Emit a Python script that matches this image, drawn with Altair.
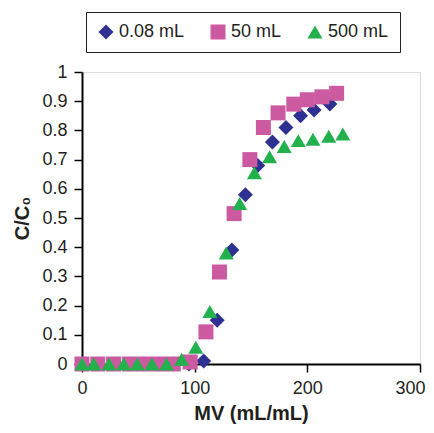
import altair as alt
import pandas as pd

series = ["0.08 mL", "50 mL", "500 mL"]
colors = ["#2E3192", "#CC5AA0", "#22B14C"]
shapes = ["diamond", "square", "triangle-up"]

x_008 = [0, 14, 28, 42, 55, 68, 81, 95, 108, 120, 133, 145, 156, 169, 181, 194, 206, 220]
y_008 = [0, 0, 0, 0, 0, 0, 0, 0, 0.01, 0.15, 0.39, 0.58, 0.68, 0.76, 0.81, 0.85, 0.87, 0.89]

x_50 = [0, 14, 28, 42, 55, 68, 81, 96, 110, 122, 135, 149, 161, 174, 188, 200, 213, 226]
y_50 = [0, 0, 0, 0, 0, 0, 0, 0.007, 0.11, 0.315, 0.515, 0.70, 0.81, 0.86, 0.89, 0.905, 0.915, 0.927]

x_500 = [0, 10.5, 24, 37, 49, 62, 75, 88.5, 101, 113.5, 128, 140, 153, 166.5, 179.5, 192, 205, 219, 231.5]
y_500 = [0, 0, 0, 0, 0, 0, 0, 0.016, 0.057, 0.18, 0.38, 0.55, 0.655, 0.71, 0.745, 0.765, 0.77, 0.78, 0.788]

x_ticks = [0, 100, 200, 300]
y_ticks = [0, 0.1, 0.2, 0.3, 0.4, 0.5, 0.6, 0.7, 0.8, 0.9, 1]

rows = []
for name, xs, ys in [(series[0], x_008, y_008), (series[1], x_50, y_50), (series[2], x_500, y_500)]:
    for xv, yv in zip(xs, ys):
        rows.append({"MV": xv, "C": yv, "Volume": name})
df = pd.DataFrame(rows)

FONT = "Liberation Sans"
TXT = "#231F20"

chart = alt.Chart(df).mark_point(filled=True, opacity=1, size=225, strokeWidth=0).encode(
    x=alt.X("MV:Q", scale=alt.Scale(domain=[0, 300], nice=False, zero=False),
            axis=alt.Axis(values=x_ticks, title="MV (mL/mL)", grid=False,
                          labelFlush=False,
                          labelAlign=alt.condition("datum.value >= 300", alt.value("right"), alt.value("center")),
                          labelOffset=alt.condition("datum.value >= 300", alt.value(5), alt.value(0)),
                          domainColor="black", domainWidth=2, tickColor="black",
                          tickWidth=1.5, tickSize=8, labelPadding=7,
                          labelFontSize=18, labelFont=FONT, labelColor=TXT,
                          titleFont=FONT, titleFontSize=20, titleFontWeight="bold",
                          titleColor=TXT, titleY=49, titleBaseline="middle")),
    y=alt.Y("C:Q", scale=alt.Scale(domain=[0, 1], nice=False),
            axis=alt.Axis(values=y_ticks, format="~g", title="C/C₀", grid=False,
                          labelFlush=False,
                          domainColor="black", domainWidth=2, tickColor="black",
                          tickWidth=1.5, tickSize=8, labelPadding=7,
                          labelFontSize=18, labelFont=FONT, labelColor=TXT,
                          titleFont=FONT, titleFontSize=20, titleFontWeight="bold",
                          titleColor=TXT, titleX=-60, titleY=146,
                          titleBaseline="middle", titleAngle=-90)),
    color=alt.Color("Volume:N", scale=alt.Scale(domain=series, range=colors),
                    legend=alt.Legend(orient="none", legendX=4, legendY=-60,
                                      direction="horizontal", title=None,
                                      padding=11, columnPadding=24,
                                      symbolSize=225, symbolStrokeWidth=0,
                                      labelOffset=4, labelFontSize=18,
                                      labelFont=FONT, labelColor=TXT,
                                      strokeColor="#231F20", fillColor="white",
                                      labelExpr="datum.label == '500 mL' ? datum.label + '        ' : datum.label")),
    shape=alt.Shape("Volume:N", scale=alt.Scale(domain=series, range=shapes)),
    order=alt.Order("Volume:N"),
).properties(
    width=338, height=292,
    autosize=alt.AutoSizeParams(type="none"),
    padding={"left": 74, "top": 64, "right": 6, "bottom": 61},
).configure_view(
    stroke="#4D4D4D", strokeWidth=1.5
).configure(background="white")

chart.save("out.html", embed_options={"renderer": "svg", "actions": False})
